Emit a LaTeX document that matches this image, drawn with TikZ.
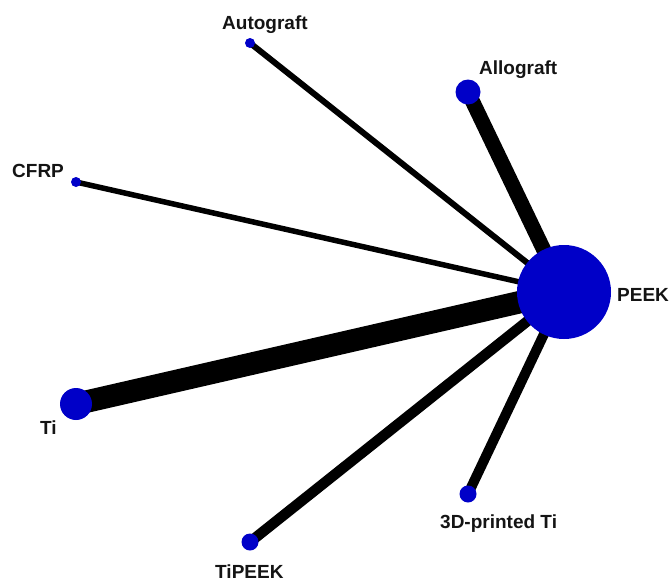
\documentclass[tikz,border=0pt]{standalone}
\usepackage{fontspec}
\setmainfont{Liberation Sans}
\usetikzlibrary{backgrounds}
\definecolor{nodeblue}{RGB}{0,0,200}
\definecolor{labelink}{RGB}{20,20,20}
\begin{document}
\begin{tikzpicture}[x=1pt,y=-1pt,
  treat/.style={circle,fill=nodeblue,inner sep=0pt,minimum size=#1},
  lbl/.style={font=\fontsize{19}{22}\selectfont\bfseries,inner sep=0pt,text=labelink,anchor=base west},
  link/.style={draw=black,line width=#1}]
\useasboundingbox (0,0) rectangle (670,581);

% treatment nodes (size ~ number of patients)
\node[treat=94pt] (peek) at (564,292) {};
\node[treat=25pt] (allo) at (468,92) {};
\node[treat=10pt] (auto) at (250,43) {};
\node[treat=10pt] (cfrp) at (76,182) {};
\node[treat=32pt] (ti)   at (76,404) {};
\node[treat=17pt] (tipeek) at (250,542) {};
\node[treat=17pt] (print) at (468,494) {};

% labels
\node[lbl] (lauto)  at (222,29.5) {Autograft};
\node[lbl] (lallo)  at (479,74)   {Allograft};
\node[lbl] (lcfrp)  at (12,177)   {CFRP};
\node[lbl] (lpeek)  at (617,301.5){PEEK};
\node[lbl] (lti)    at (40,434)   {Ti};
\node[lbl] (ltipeek) at (215,578) {TiPEEK};
\node[lbl] (lprint) at (440,528)  {3D-printed Ti};

% comparisons (width ~ number of studies)
\begin{pgfonlayer}{background}
  \draw[link=6pt]    (peek.center) -- (auto.center);
  \draw[link=5.5pt]  (peek.center) -- (cfrp.center);
  \draw[link=15pt]   (peek.center) -- (allo.center);
  \draw[link=22.5pt] (peek.center) -- (ti.center);
  \draw[link=10.5pt] (peek.center) -- (tipeek.center);
  \draw[link=10pt]   (peek.center) -- (print.center);
\end{pgfonlayer}
\end{tikzpicture}
\end{document}
